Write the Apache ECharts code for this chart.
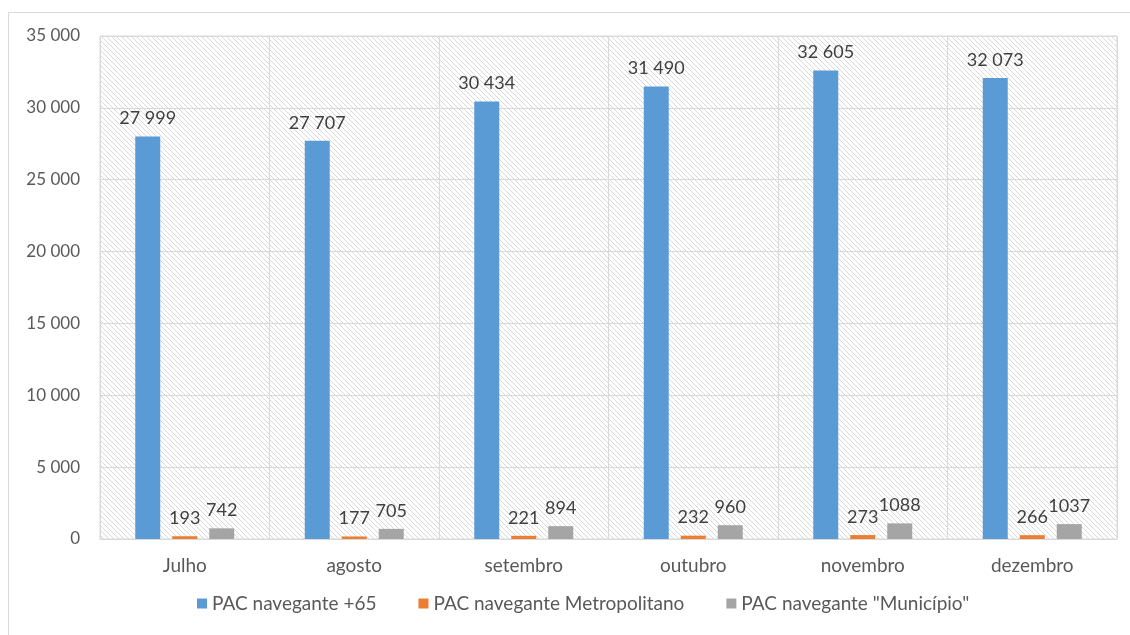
<!DOCTYPE html>
<html>
<head>
<meta charset="utf-8">
<script src="https://cdn.jsdelivr.net/npm/echarts@6/dist/echarts.min.js"></script>
<style>
  html, body { margin: 0; padding: 0; background: #fff; }
  #chart { width: 1130px; height: 635px; }
</style>
</head>
<body>
<div id="chart"></div>
<script>
// Monthly counts of PAC navegante passes
const months = ['Julho', 'agosto', 'setembro', 'outubro', 'novembro', 'dezembro'];
const seriesNames = ['PAC navegante +65', 'PAC navegante Metropolitano', 'PAC navegante "Município"'];
const plus65 = [27999, 27707, 30434, 31490, 32605, 32073];
const metropolitano = [193, 177, 221, 232, 273, 266];
const municipio = [742, 705, 894, 960, 1088, 1037];
const yTicks = { min: 0, max: 35000, interval: 5000 };

const colors = ['#5B9BD5', '#ED7D31', '#A5A5A5'];
const FONT = 'Lato';

// group thousands with a space; value labels only group from 5 digits up
function group(n) {
  return String(Math.round(n)).replace(/\B(?=(\d{3})+(?!\d))/g, ' ');
}
function fmtLabel(n) {
  return Math.abs(n) >= 10000 ? group(n) : String(Math.round(n));
}

// diagonal hatch used as the plot-area fill
function hatch() {
  const c = document.createElement('canvas');
  const s = 5;
  c.width = s; c.height = s;
  const g = c.getContext('2d');
  g.fillStyle = '#ffffff';
  g.fillRect(0, 0, s, s);
  g.strokeStyle = '#d9d9d9';
  g.lineWidth = 1;
  g.beginPath();
  for (const off of [-s, 0, s]) {
    g.moveTo(off - 1, -1);
    g.lineTo(off + s + 1, s + 1);
  }
  g.stroke();
  return c;
}

const chart = echarts.init(document.getElementById('chart'), null, { renderer: 'canvas' });

const label = {
  show: true,
  position: 'top',
  distance: 9,
  color: '#404040',
  fontFamily: FONT,
  fontSize: 18,
  formatter: p => fmtLabel(p.value)
};

chart.setOption({
  animation: false,
  textStyle: { fontFamily: FONT },
  graphic: [{
    type: 'rect',
    silent: true,
    shape: { x: 8.5, y: 12.5, width: 1200, height: 700 },
    style: { fill: null, stroke: '#d9d9d9', lineWidth: 1 }
  }],
  grid: {
    left: 100, right: 13, top: 36, bottom: 96,
    show: true,
    backgroundColor: { image: hatch(), repeat: 'repeat' },
    borderColor: '#d9d9d9',
    borderWidth: 1
  },
  legend: {
    bottom: 17,
    left: 192,
    itemWidth: 10,
    itemHeight: 10,
    itemGap: 42,
    icon: 'rect',
    textStyle: { color: '#595959', fontSize: 19, fontFamily: FONT },
    data: seriesNames
  },
  xAxis: {
    type: 'category',
    data: months,
    axisLine: { lineStyle: { color: '#d9d9d9' } },
    axisTick: { show: false },
    splitLine: { show: true, lineStyle: { color: '#d9d9d9' } },
    axisLabel: { color: '#595959', fontSize: 19, margin: 17, fontFamily: FONT }
  },
  yAxis: {
    type: 'value',
    min: yTicks.min,
    max: yTicks.max,
    interval: yTicks.interval,
    axisLine: { show: false },
    axisTick: { show: false },
    splitLine: { lineStyle: { color: '#d9d9d9' } },
    axisLabel: { color: '#595959', fontSize: 17, margin: 20, fontFamily: FONT, formatter: v => group(v) }
  },
  series: [
    { name: seriesNames[0], type: 'bar', data: plus65, itemStyle: { color: colors[0] }, barWidth: 25, barGap: '48%', label },
    { name: seriesNames[1], type: 'bar', data: metropolitano, itemStyle: { color: colors[1] }, barWidth: 25, barGap: '48%', label },
    { name: seriesNames[2], type: 'bar', data: municipio, itemStyle: { color: colors[2] }, barWidth: 25, barGap: '48%', label }
  ]
});
</script>
</body>
</html>
